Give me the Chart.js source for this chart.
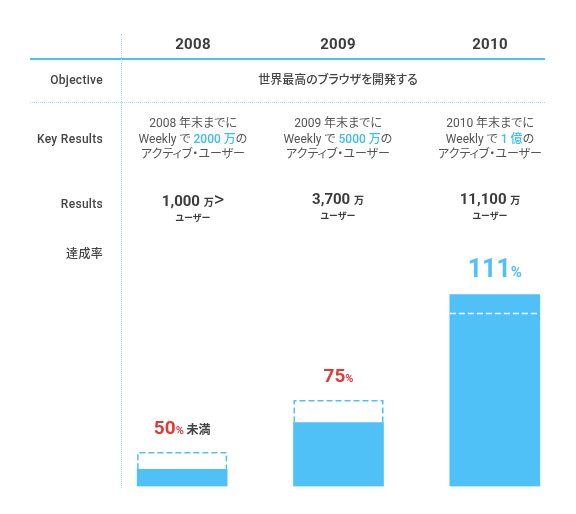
<!DOCTYPE html>
<html lang="ja">
<head>
<meta charset="utf-8">
<script src="https://cdn.jsdelivr.net/npm/chart.js"></script>
<style>
  body { margin: 0; background: #fff; font-family: "Roboto", "Noto Sans CJK JP", sans-serif; color: #444; font-feature-settings: "palt"; }
  #wrap { position: relative; width: 576px; height: 514px; overflow: hidden; }
  #chart { position: absolute; left: 0; top: 0; }
  .abs { position: absolute; }
  .col { position: absolute; width: 160px; margin-left: -80px; text-align: center; }
  .year { font-size: 15px; font-weight: 700; line-height: 18px; top: 35px; color: #3c3c3c; letter-spacing: 0.3px; }
  .row { position: absolute; right: 473px; font-size: 12px; font-weight: 500; line-height: 16px; white-space: nowrap; letter-spacing: 0.3px; }
  .kr { font-size: 12px; line-height: 15.5px; top: 116px; color: #555; }
  .hl { color: #3dbbf4; font-weight: 500; }
  .res { top: 190px; font-size: 15px; font-weight: 700; line-height: 18px; color: #3c3c3c; }
  .res small { font-size: 10px; }
  .res .u { display: block; font-size: 9px; line-height: 12px; font-weight: 700; }
</style>
</head>
<body>
<div id="wrap">
  <canvas id="chart" width="576" height="514"></canvas>

  <!-- grid lines -->
  <div class="abs" style="left:30px;top:58px;width:515px;height:2px;background:#4fc1f6;"></div>
  <div class="abs" style="left:30px;top:102px;width:515px;border-top:1.5px dotted #9fd9f3;"></div>
  <div class="abs" style="left:121px;top:34px;height:454px;border-left:1.5px dotted #9fd9f3;"></div>

  <!-- row labels -->
  <div class="row" style="top:72px;">Objective</div>
  <div class="row" style="top:131px;">Key Results</div>
  <div class="row" style="top:196px;">Results</div>
  <div class="row" style="top:246px;">達成率</div>

  <div id="cells"></div>
</div>

<script>
// column headers
const years = ["2008", "2009", "2010"];
// Key Results: target in 万 users
const targets = [2000, 5000, 10000];
const targetLabels = ["2000 万", "5000 万", "1 億"];
// Results: actual in 万 users
const actuals = [1000, 3700, 11100];
const actualLabels = ["1,000", "3,700", "11,100"];
const actualMarks = ["＞", "", ""];
// achievement rate labels
const rates = ["50", "75", "111"];
const rateNotes = ["未満", "", ""];

const objective = "世界最高のブラウザを開発する";
const colX = [193, 338, 490];

// table cells
const cells = document.getElementById("cells");
let html = `<div class="col" style="left:338px;width:300px;margin-left:-150px;top:72px;font-size:12px;line-height:16px;font-weight:500;">${objective}</div>`;
years.forEach((y, i) => {
  html += `<div class="col year" style="left:${colX[i]}px">${y}</div>`;
  html += `<div class="col kr" style="left:${colX[i]}px">${y} 年末までに<br>Weekly で <span class="hl">${targetLabels[i]}</span>の<br>アクティブ・ユーザー</div>`;
  html += `<div class="col res" style="left:${colX[i]}px">${actualLabels[i]} <small>万</small>${actualMarks[i] ? '<span style="font-weight:400;font-size:20px;line-height:18px;">&gt;</span>' : ''}<span class="u">ユーザー</span></div>`;
});
cells.innerHTML = html;

const BLUE = "#4fc1f6";
const RED = "#e53935";

// dashed target boxes and rate labels, drawn from the bar elements
const targetPlugin = {
  id: "targets",
  afterDatasetsDraw(chart) {
    const ctx = chart.ctx;
    const aMeta = chart.getDatasetMeta(0);
    const tMeta = chart.getDatasetMeta(1);
    tMeta.data.forEach((t, i) => {
      const a = aMeta.data[i];
      const left = t.x - t.width / 2, right = t.x + t.width / 2;
      ctx.save();
      ctx.setLineDash([6, 3]);
      ctx.lineWidth = 1.5;
      if (a.y > t.y) {
        ctx.strokeStyle = BLUE;
        ctx.beginPath();
        ctx.moveTo(left + 0.75, a.y);
        ctx.lineTo(left + 0.75, t.y + 0.75);
        ctx.lineTo(right - 0.75, t.y + 0.75);
        ctx.lineTo(right - 0.75, a.y);
        ctx.stroke();
      } else {
        ctx.strokeStyle = "#ffffff";
        ctx.beginPath();
        ctx.moveTo(left, t.y);
        ctx.lineTo(right, t.y);
        ctx.stroke();
      }
      ctx.restore();

      // label
      const met = actuals[i] >= targets[i];
      const color = met ? BLUE : RED;
      const big = met ? 25 : 19;
      const runs = [
        { t: rates[i], f: `700 ${big}px Roboto, sans-serif`, c: color },
        { t: "%", f: `700 ${Math.round(big * 0.6)}px Roboto, sans-serif`, c: color }
      ];
      if (rateNotes[i]) runs.push({ t: " " + rateNotes[i], f: `700 12px "Noto Sans CJK JP", sans-serif`, c: "#444" });
      ctx.save();
      ctx.textBaseline = "alphabetic";
      ctx.textAlign = "left";
      let w = 0;
      runs.forEach(r => { ctx.font = r.f; r.w = ctx.measureText(r.t).width; w += r.w; });
      let x = t.x - w / 2;
      const base = Math.min(t.y, a.y) - 18;
      runs.forEach(r => { ctx.font = r.f; ctx.fillStyle = r.c; ctx.fillText(r.t, x, base); x += r.w; });
      ctx.restore();
    });
  }
};

new Chart(document.getElementById("chart"), {
  type: "bar",
  data: {
    labels: years,
    datasets: [
      { label: "Results", data: actuals, backgroundColor: BLUE, barThickness: 90, grouped: false },
      { label: "Key Results", data: targets, backgroundColor: "rgba(0,0,0,0)", barThickness: 90, grouped: false }
    ]
  },
  options: {
    responsive: false,
    animation: false,
    layout: { padding: { left: 104, right: 3, top: 279, bottom: 27.5 } },
    plugins: { legend: { display: false }, tooltip: { enabled: false } },
    scales: {
      x: { display: false },
      y: { display: false, min: 0, max: 12000 }
    }
  },
  plugins: [targetPlugin]
});
</script>
</body>
</html>
